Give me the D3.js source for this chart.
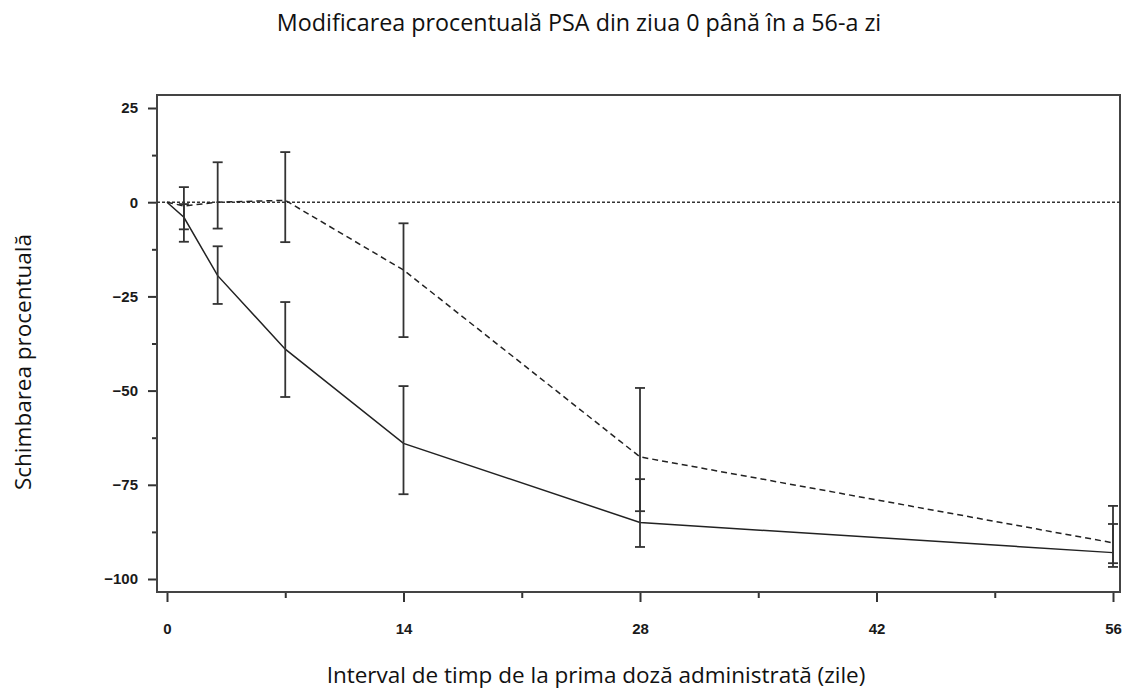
<!DOCTYPE html>
<html>
<head>
<meta charset="utf-8">
<script src="https://cdn.jsdelivr.net/npm/d3@7"></script>
<style>
  body { margin:0; background:#fff; }
  .tick text { font-family: "Liberation Sans", Arial, sans-serif; font-weight:bold; font-size:15px; fill:#1a1a1a; }
  .lbl { font-family: "Open Sans", "Noto Sans", sans-serif; font-size:22.5px; fill:#111; }
</style>
</head>
<body>
<svg id="chart" width="1125" height="691"></svg>
<script>
// days since first dose
var days = [0, 1, 3, 7, 14, 28, 56];

// solid series: mean, lower and upper limit
var solidMean = [0, -4, -19.5, -39, -64, -85, -93];
var solidLow  = [null, -7.2, -27, -51.7, -77.5, -91.5, -96.8];
var solidHigh = [null, -0.5, -11.7, -26.5, -48.8, -73.5, -85.4];

// dashed series
var dashMean = [0, -1, 0, 0.5, -18, -67.6, -90.4];
var dashLow  = [null, -10.5, -7, -10.6, -35.8, -82, -95.8];
var dashHigh = [null, 4, 10.6, 13.3, -5.6, -49.3, -80.6];

var xMajor = [0, 14, 28, 42, 56], xMinor = [7, 21, 35, 49];
var yMajor = [25, 0, -25, -50, -75, -100], yMinor = [12.5, -12.5, -37.5, -62.5, -87.5];

var svg = d3.select("#chart");
var frame = {l:157, t:95, r:1120, b:592};

var x = d3.scaleLinear().domain([0, 56]).range([167, 1113]);
var y = d3.scaleLinear().domain([-100, 25]).range([579, 108]);

// titles
svg.append("text").attr("class","lbl").attr("x",579).attr("y",31).style("font-size","23.3px")
  .attr("text-anchor","middle").text("Modificarea procentuală PSA din ziua 0 până în a 56-a zi");
svg.append("text").attr("class","lbl").attr("transform","translate(31,362) rotate(-90)")
  .attr("text-anchor","middle").text("Schimbarea procentuală");
svg.append("text").attr("class","lbl").attr("x",596).attr("y",683)
  .attr("text-anchor","middle").text("Interval de timp de la prima doză administrată (zile)");

// axes
var yAx = svg.append("g").attr("transform","translate("+frame.l+",0)")
  .call(d3.axisLeft(y).tickValues(yMajor).tickSize(9).tickPadding(10).tickFormat(d3.format("d")));
var yAxm = svg.append("g").attr("transform","translate("+frame.l+",0)")
  .call(d3.axisLeft(y).tickValues(yMinor).tickSize(5).tickFormat(""));
var xAx = svg.append("g").attr("transform","translate(0,"+frame.b+")")
  .call(d3.axisBottom(x).tickValues(xMajor).tickSize(10).tickPadding(21));
var xAxm = svg.append("g").attr("transform","translate(0,"+frame.b+")")
  .call(d3.axisBottom(x).tickValues(xMinor).tickSize(6).tickFormat(""));
[yAx, yAxm, xAx, xAxm].forEach(function(g) {
  g.select(".domain").remove();
  g.selectAll(".tick line").attr("stroke","#333").attr("stroke-width",2);
});
yAx.selectAll(".tick text").text(function(d){ return d < 0 ? "\u2212" + Math.abs(d) : d; });

// frame
svg.append("rect").attr("x",frame.l).attr("y",frame.t)
  .attr("width",frame.r-frame.l).attr("height",frame.b-frame.t)
  .attr("fill","none").attr("stroke","#444").attr("stroke-width",2);

// zero reference
svg.append("line").attr("x1",frame.l).attr("x2",frame.r).attr("y1",y(0)).attr("y2",y(0))
  .attr("stroke","#333").attr("stroke-width",1.5).attr("stroke-dasharray","3,2");

function drawSeries(mean, low, high, dash) {
  var pts = days.map(function(d,i){ return {d:d, m:mean[i], lo:low[i], hi:high[i]}; });
  var line = d3.line().x(function(p){ return x(p.d); }).y(function(p){ return y(p.m); });
  svg.append("path").datum(pts).attr("d",line).attr("fill","none")
    .attr("stroke","#222").attr("stroke-width",1.5)
    .attr("stroke-dasharray", dash ? "6,4" : null);
  var eb = svg.append("g").selectAll("g").data(pts.filter(function(p){ return p.lo !== null; }))
    .enter().append("g").attr("stroke","#333").attr("stroke-width",1.8);
  eb.append("line").attr("x1",function(p){return x(p.d);}).attr("x2",function(p){return x(p.d);})
    .attr("y1",function(p){return y(p.hi);}).attr("y2",function(p){return y(p.lo);});
  [["hi"],["lo"]].forEach(function(k) {
    eb.append("line").attr("x1",function(p){return x(p.d)-5;}).attr("x2",function(p){return x(p.d)+5;})
      .attr("y1",function(p){return y(p[k[0]]);}).attr("y2",function(p){return y(p[k[0]]);});
  });
}
drawSeries(dashMean, dashLow, dashHigh, true);
drawSeries(solidMean, solidLow, solidHigh, false);
</script>
</body>
</html>
